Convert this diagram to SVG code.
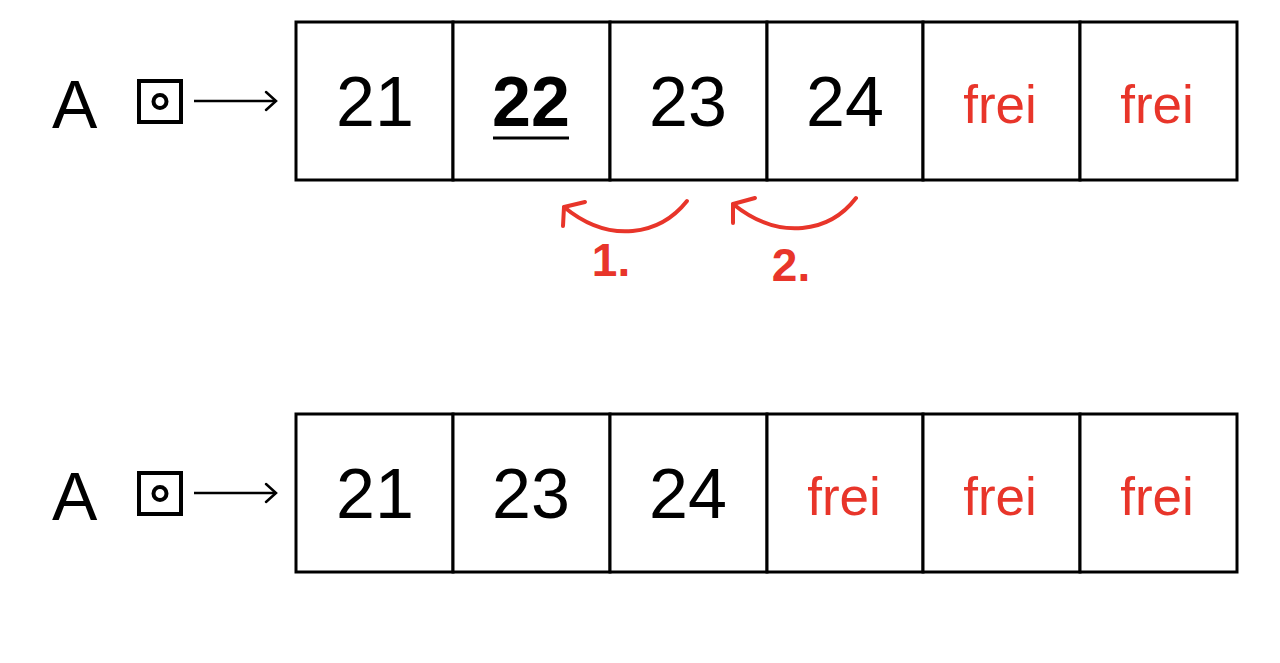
<svg xmlns="http://www.w3.org/2000/svg" width="1280" height="663" viewBox="0 0 1280 663">
<style>
.cell{fill:#fff;stroke:#000;stroke-width:3}
.num{font-family:"Liberation Sans",Arial,sans-serif;font-size:70px;fill:#000;text-anchor:middle}
.frei{font-family:"Liberation Sans",Arial,sans-serif;font-size:53px;fill:#e8352a;text-anchor:middle}
.lbl{font-family:"Liberation Sans",Arial,sans-serif;font-size:68px;fill:#000}
.red{fill:none;stroke:#e8352a;stroke-width:4;stroke-linecap:round;stroke-linejoin:round}
.step{font-family:"Liberation Sans",Arial,sans-serif;font-size:46px;font-weight:bold;fill:#e8352a;text-anchor:middle}
.ptr{fill:none;stroke:#000;stroke-width:4}
</style>
<rect width="1280" height="663" fill="#fff"/>
<g id="top-var">
<text class="lbl" x="52" y="128">A</text>
<rect class="ptr" x="139" y="81" width="42" height="41"/>
<circle class="ptr" cx="160" cy="101.5" r="6.5" stroke-width="3.5"/>
</g>
<g id="top-array">
<rect class="cell" x="296" y="22" width="157" height="158"/>
<rect class="cell" x="453" y="22" width="157" height="158"/>
<rect class="cell" x="610" y="22" width="157" height="158"/>
<rect class="cell" x="767" y="22" width="156" height="158"/>
<rect class="cell" x="923" y="22" width="157" height="158"/>
<rect class="cell" x="1080" y="22" width="157" height="158"/>
<text class="num" x="375" y="126">21</text>
<text class="num" x="531" y="126" font-weight="bold">22</text>
<line x1="493" y1="138" x2="569" y2="138" stroke="#000" stroke-width="3"/>
<text class="num" x="688" y="126">23</text>
<text class="num" x="845" y="126">24</text>
<text class="frei" x="1000" y="123">frei</text>
<text class="frei" x="1157" y="123">frei</text>
</g>
<g id="bottom-var">
<text class="lbl" x="52" y="520">A</text>
<rect class="ptr" x="139" y="473" width="42" height="41"/>
<circle class="ptr" cx="160" cy="493.5" r="6.5" stroke-width="3.5"/>
</g>
<g id="bottom-array">
<rect class="cell" x="296" y="414" width="157" height="158"/>
<rect class="cell" x="453" y="414" width="157" height="158"/>
<rect class="cell" x="610" y="414" width="157" height="158"/>
<rect class="cell" x="767" y="414" width="156" height="158"/>
<rect class="cell" x="923" y="414" width="157" height="158"/>
<rect class="cell" x="1080" y="414" width="157" height="158"/>
<text class="num" x="375" y="518">21</text>
<text class="num" x="531" y="518">23</text>
<text class="num" x="688" y="518">24</text>
<text class="frei" x="844" y="515">frei</text>
<text class="frei" x="1000" y="515">frei</text>
<text class="frei" x="1157" y="515">frei</text>
</g>
<g id="connectors">
<line x1="194" y1="101" x2="276" y2="101" stroke="#000" stroke-width="2.5"/>
<polyline points="266,92 276,101 266,110" fill="none" stroke="#000" stroke-width="2.5" stroke-linecap="round"/>
<line x1="194" y1="493" x2="276" y2="493" stroke="#000" stroke-width="2.5"/>
<polyline points="266,484 276,493 266,502" fill="none" stroke="#000" stroke-width="2.5" stroke-linecap="round"/>
<path class="red" d="M687,201 C660,235 610,245 564,207"/>
<polyline class="red" points="585,202 564,207 563,226"/>
<path class="red" d="M856,198 C830,232 780,242 733,204"/>
<polyline class="red" points="755,198 733,204 733,223"/>
</g>
<g id="labels">
<text class="step" x="611" y="276">1.</text>
<text class="step" x="791" y="281">2.</text>
</g>
</svg>
